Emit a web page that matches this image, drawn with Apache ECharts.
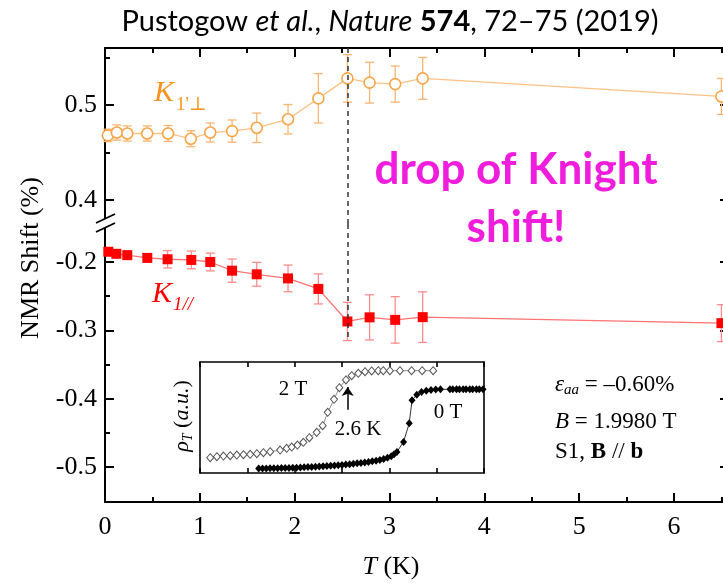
<!DOCTYPE html>
<html>
<head>
<meta charset="utf-8">
<script src="https://cdn.jsdelivr.net/npm/echarts@6/dist/echarts.min.js"></script>
<style>
  html, body { margin: 0; padding: 0; background: #fff; }
  #chart { width: 723px; height: 585px; }
</style>
</head>
<body>
<div id="chart"></div>
<script>
// ---- Knight shift K(1'⊥), upper panel (%) ----
const tPerp = [0.03, 0.125, 0.235, 0.445, 0.665, 0.905, 1.11, 1.34, 1.60, 1.93, 2.25, 2.556, 2.79, 3.06, 3.35, 6.50];
const kPerp = [0.468, 0.471, 0.470, 0.470, 0.470, 0.4645, 0.471, 0.4725, 0.476, 0.485, 0.507, 0.528, 0.5235, 0.522, 0.528, 0.509];
const kPerpErr = [0.0065, 0.008, 0.008, 0.008, 0.0084, 0.0084, 0.010, 0.0117, 0.0155, 0.0155, 0.026, 0.025, 0.0215, 0.019, 0.022, 0.019];

// ---- Knight shift K(1//), lower panel (%) ----
const tPar = [0.035, 0.12, 0.235, 0.446, 0.66, 0.91, 1.11, 1.34, 1.60, 1.93, 2.25, 2.556, 2.79, 3.06, 3.35, 6.50];
const kPar = [-0.185, -0.188, -0.190, -0.194, -0.196, -0.197, -0.200, -0.2127, -0.218, -0.224, -0.2394, -0.287, -0.281, -0.2847, -0.2807, -0.2895];
const kParErr = [0.005, 0.005, 0.006, 0.006, 0.0127, 0.013, 0.013, 0.017, 0.0175, 0.0195, 0.022, 0.028, 0.033, 0.034, 0.037, 0.027];

// ---- Inset: resistivity rho_T (a.u.) at 2 T ----
const t2T = [1.108, 1.178, 1.248, 1.319, 1.389, 1.459, 1.530, 1.600, 1.670, 1.741, 1.846, 1.916, 1.969, 2.029, 2.092, 2.155, 2.233, 2.296, 2.349, 2.416, 2.472, 2.542, 2.602, 2.672, 2.743, 2.813, 2.883, 2.936, 3.006, 3.112, 3.235, 3.347, 3.463];
const rho2T = [0.138, 0.147, 0.153, 0.156, 0.162, 0.165, 0.168, 0.174, 0.183, 0.192, 0.207, 0.222, 0.234, 0.252, 0.276, 0.318, 0.366, 0.426, 0.547, 0.664, 0.769, 0.838, 0.877, 0.898, 0.913, 0.919, 0.922, 0.922, 0.922, 0.922, 0.922, 0.922, 0.922];

// ---- Inset: resistivity rho_T (a.u.) at 0 T ----
const t0T = [1.62, 1.66, 1.70, 1.74, 1.78, 1.82, 1.86, 1.90, 1.94, 1.98, 2.02, 2.06, 2.10, 2.14, 2.18, 2.22, 2.26, 2.30, 2.34, 2.38, 2.42, 2.46, 2.50, 2.54, 2.58, 2.62, 2.66, 2.70, 2.74, 2.78, 2.82, 2.86, 2.90, 2.94, 2.98, 3.02, 3.05, 3.08, 3.15, 3.21, 3.24, 3.29, 3.34, 3.39, 3.44, 3.49, 3.54, 3.64, 3.67, 3.71, 3.74, 3.78, 3.81, 3.85, 3.88, 3.92, 3.95, 3.99];
const rho0T = [0.040, 0.041, 0.041, 0.042, 0.042, 0.043, 0.044, 0.045, 0.046, 0.047, 0.048, 0.050, 0.051, 0.053, 0.055, 0.057, 0.059, 0.061, 0.063, 0.065, 0.068, 0.070, 0.073, 0.076, 0.079, 0.083, 0.087, 0.091, 0.095, 0.100, 0.105, 0.110, 0.118, 0.126, 0.137, 0.152, 0.168, 0.190, 0.280, 0.448, 0.655, 0.705, 0.730, 0.742, 0.748, 0.752, 0.754, 0.754, 0.754, 0.755, 0.755, 0.755, 0.755, 0.755, 0.755, 0.755, 0.755, 0.755];

// ---- Ticks ----
const xMajor = [0, 1, 2, 3, 4, 5, 6];
const xMinor = [0.5, 1.5, 2.5, 3.5, 4.5, 5.5, 6.5];
const yUpMajor = [0.4, 0.5];
const yUpMinor = [0.45, 0.55];
const yLoMajor = [-0.5, -0.4, -0.3, -0.2];
const yLoMinor = [-0.45, -0.35, -0.25];
const tTransition = 2.56;        // temperature of the drop (K)
const dashEndLower = -0.315;     // lower end of the dashed guide

// ---- Axis ranges ----
const X_MAX = 6.58;
const UP_MIN = 0.3747, UP_MAX = 0.56;
const LO_MIN = -0.5512, LO_MAX = -0.1444;

const SERIF = '"Liberation Serif", "DejaVu Serif", serif';
const SANS = 'Lato, "Open Sans", sans-serif';

const C_PERP = '#F9A54A', C_PERP_LINE = '#FBC185', C_PERP_ERR = '#FAB572';
const C_PAR = '#FF0000', C_PAR_LINE = '#FF7373', C_PAR_ERR = '#FF8C8C';

function errBars(color) {
  return function (params, api) {
    const x = api.value(0);
    const pLo = api.coord([x, api.value(1)]);
    const pHi = api.coord([x, api.value(2)]);
    const cap = 4.5;
    const st = { stroke: color, lineWidth: 1.3 };
    return {
      type: 'group',
      children: [
        { type: 'line', shape: { x1: pLo[0], y1: pLo[1], x2: pHi[0], y2: pHi[1] }, style: st },
        { type: 'line', shape: { x1: pLo[0] - cap, y1: pLo[1], x2: pLo[0] + cap, y2: pLo[1] }, style: st },
        { type: 'line', shape: { x1: pHi[0] - cap, y1: pHi[1], x2: pHi[0] + cap, y2: pHi[1] }, style: st }
      ]
    };
  };
}

function axisBase(extra) {
  return Object.assign({
    type: 'value',
    splitLine: { show: false },
    axisLine: { show: false, onZero: false, lineStyle: { color: '#000', width: 2 } },
    axisTick: { show: false },
    axisLabel: { show: false }
  }, extra);
}
function ticks(values, len) {
  return { show: true, inside: true, length: len, customValues: values, lineStyle: { color: '#000', width: 2 } };
}
const lineOn = { show: true, onZero: false, lineStyle: { color: '#000', width: 2 } };
const labelStyle = { fontFamily: SERIF, fontSize: 26, color: '#000' };

const chart = echarts.init(document.getElementById('chart'), null, { renderer: 'canvas' });

const option = {
  animation: false,
  backgroundColor: '#fff',
  grid: [
    { left: 105, top: 48, width: 624, height: 176, containLabel: false, outerBoundsMode: 'none' },
    { left: 105, top: 224, width: 624, height: 278, containLabel: false, outerBoundsMode: 'none' },
    { left: 200, top: 362, width: 284, height: 111, show: true, backgroundColor: '#fff', borderWidth: 0,
      containLabel: false, outerBoundsMode: 'none' }
  ],
  xAxis: [
    axisBase({ gridIndex: 0, position: 'top', min: 0, max: X_MAX, axisLine: lineOn, axisTick: ticks(xMajor, 9) }),
    axisBase({ gridIndex: 0, position: 'top', min: 0, max: X_MAX, axisTick: ticks(xMinor, 5) }),
    axisBase({ gridIndex: 1, position: 'bottom', min: 0, max: X_MAX, axisLine: lineOn, axisTick: ticks(xMajor, 9),
      axisLabel: Object.assign({ show: true, customValues: xMajor, margin: 12 }, labelStyle) }),
    axisBase({ gridIndex: 1, position: 'bottom', min: 0, max: X_MAX, axisTick: ticks(xMinor, 5) }),
    axisBase({ gridIndex: 2, position: 'bottom', min: 1, max: 4, interval: 0.5,
      axisLine: { show: true, onZero: false, lineStyle: { color: '#000', width: 1.6 } },
      axisTick: { show: true, inside: true, length: 5, lineStyle: { color: '#000', width: 1.6 } } }),
    axisBase({ gridIndex: 2, position: 'top', min: 1, max: 4, interval: 0.5,
      axisLine: { show: true, onZero: false, lineStyle: { color: '#000', width: 1.6 } },
      axisTick: { show: true, inside: true, length: 5, lineStyle: { color: '#000', width: 1.6 } } })
  ],
  yAxis: [
    axisBase({ gridIndex: 0, position: 'left', min: UP_MIN, max: UP_MAX, axisLine: lineOn, axisTick: ticks(yUpMajor, 9),
      axisLabel: Object.assign({ show: true, customValues: yUpMajor, margin: 8, formatter: v => v.toFixed(1) }, labelStyle) }),
    axisBase({ gridIndex: 0, position: 'left', min: UP_MIN, max: UP_MAX, axisTick: ticks(yUpMinor, 5) }),
    axisBase({ gridIndex: 0, position: 'right', min: UP_MIN, max: UP_MAX, axisLine: lineOn, axisTick: ticks(yUpMajor, 9) }),
    axisBase({ gridIndex: 1, position: 'left', min: LO_MIN, max: LO_MAX, axisLine: lineOn, axisTick: ticks(yLoMajor, 9),
      axisLabel: Object.assign({ show: true, customValues: yLoMajor, margin: 8, formatter: v => v.toFixed(1) }, labelStyle) }),
    axisBase({ gridIndex: 1, position: 'left', min: LO_MIN, max: LO_MAX, axisTick: ticks(yLoMinor, 5) }),
    axisBase({ gridIndex: 1, position: 'right', min: LO_MIN, max: LO_MAX, axisLine: lineOn, axisTick: ticks(yLoMajor, 9) }),
    axisBase({ gridIndex: 2, position: 'left', min: 0, max: 1,
      axisLine: { show: true, onZero: false, lineStyle: { color: '#000', width: 1.6 } } }),
    axisBase({ gridIndex: 2, position: 'right', min: 0, max: 1,
      axisLine: { show: true, onZero: false, lineStyle: { color: '#000', width: 1.6 } } })
  ],
  series: [
    {
      type: 'custom', xAxisIndex: 0, yAxisIndex: 0, z: 2,
      renderItem: errBars(C_PERP_ERR), encode: { x: 0, y: [1, 2] },
      data: tPerp.map((t, i) => [t, kPerp[i] - kPerpErr[i], kPerp[i] + kPerpErr[i]])
    },
    {
      type: 'line', name: "K1'⊥", xAxisIndex: 0, yAxisIndex: 0, z: 3,
      data: tPerp.map((t, i) => [t, kPerp[i]]),
      symbol: 'circle', symbolSize: 11,
      itemStyle: { color: '#fff', borderColor: C_PERP, borderWidth: 1.6 },
      lineStyle: { color: C_PERP_LINE, width: 1.3 },
      markLine: {
        silent: true, symbol: 'none', label: { show: false },
        lineStyle: { color: '#333', type: [5, 4], width: 1.5 },
        data: [{ xAxis: tTransition }]
      }
    },
    {
      type: 'custom', xAxisIndex: 2, yAxisIndex: 3, z: 2,
      renderItem: errBars(C_PAR_ERR), encode: { x: 0, y: [1, 2] },
      data: tPar.map((t, i) => [t, kPar[i] - kParErr[i], kPar[i] + kParErr[i]])
    },
    {
      type: 'line', name: 'K1//', xAxisIndex: 2, yAxisIndex: 3, z: 3,
      data: tPar.map((t, i) => [t, kPar[i]]),
      symbol: 'rect', symbolSize: 10,
      itemStyle: { color: C_PAR },
      lineStyle: { color: C_PAR_LINE, width: 1.3 },
      markLine: {
        silent: true, symbol: 'none', label: { show: false },
        lineStyle: { color: '#333', type: [5, 4], width: 1.5 },
        data: [[{ coord: [tTransition, LO_MAX] }, { coord: [tTransition, dashEndLower] }]]
      }
    },
    {
      type: 'line', name: '2 T', xAxisIndex: 4, yAxisIndex: 6, z: 5,
      data: t2T.map((t, i) => [t, rho2T[i]]),
      symbol: 'diamond', symbolSize: [7, 8],
      itemStyle: { color: '#fff', borderColor: '#555', borderWidth: 1 },
      lineStyle: { color: '#777', width: 0.8 },
      markLine: {
        silent: true, symbol: ['none', 'arrow'], symbolSize: 9, label: { show: false },
        lineStyle: { color: '#000', type: 'solid', width: 1.5 },
        data: [[{ coord: [tTransition, 0.57] }, { coord: [tTransition, 0.775] }]]
      }
    },
    {
      type: 'line', name: '0 T', xAxisIndex: 4, yAxisIndex: 6, z: 5,
      data: t0T.map((t, i) => [t, rho0T[i]]),
      symbol: 'diamond', symbolSize: [7, 8],
      itemStyle: { color: '#000' },
      lineStyle: { color: '#000', width: 0.8 }
    }
  ],
  graphic: [
    // citation
    { type: 'text', x: 390, y: 22, z: 100, style: {
        text: '{n|Pustogow }{i|et al.}{n|, }{i|Nature}{n| }{b|574}{n|, 72–75 (2019)}',
        align: 'center', verticalAlign: 'middle',
        rich: {
          n: { fontFamily: SANS, fontSize: 29, fill: '#000' },
          i: { fontFamily: SANS, fontSize: 29, fontStyle: 'italic', fill: '#000' },
          b: { fontFamily: SANS, fontSize: 29, fontWeight: 'bold', fill: '#000' }
        } } },
    // highlight note
    { type: 'text', x: 516, y: 199, z: 100, style: {
        text: 'drop of Knight\nshift!', align: 'center', verticalAlign: 'middle',
        fontFamily: SANS, fontSize: 44, fontWeight: 'bold', lineHeight: 58, fill: '#F01EDC' } },
    // series labels
    { type: 'text', x: 164, y: 93, z: 100, style: { text: 'K', align: 'center', verticalAlign: 'middle',
        fontFamily: SERIF, fontSize: 30, fontStyle: 'italic', fill: '#F7931E' } },
    { type: 'text', x: 176, y: 105, z: 100, style: { text: "1'⊥", align: 'left', verticalAlign: 'middle',
        fontFamily: SERIF, fontSize: 19, fill: '#F7931E' } },
    { type: 'text', x: 162, y: 294, z: 100, style: { text: 'K', align: 'center', verticalAlign: 'middle',
        fontFamily: SERIF, fontSize: 30, fontStyle: 'italic', fill: '#FF0000' } },
    { type: 'text', x: 173, y: 305, z: 100, style: { text: '1//', align: 'left', verticalAlign: 'middle',
        fontFamily: SERIF, fontSize: 19, fontStyle: 'italic', fill: '#FF0000' } },
    // inset annotations
    { type: 'text', x: 293, y: 389, z: 100, style: { text: '2 T', align: 'center', verticalAlign: 'middle',
        fontFamily: SERIF, fontSize: 21, fill: '#000' } },
    { type: 'text', x: 358, y: 429, z: 100, style: { text: '2.6 K', align: 'center', verticalAlign: 'middle',
        fontFamily: SERIF, fontSize: 21, fill: '#000' } },
    { type: 'text', x: 448, y: 412, z: 100, style: { text: '0 T', align: 'center', verticalAlign: 'middle',
        fontFamily: SERIF, fontSize: 21, fill: '#000' } },
    { type: 'text', x: 182, y: 416, z: 100, rotation: Math.PI / 2, style: {
        text: '{i|ρ}{s|T}{n| (}{i|a.u.}{n|)}', align: 'center', verticalAlign: 'middle',
        rich: {
          i: { fontFamily: SERIF, fontSize: 22, fontStyle: 'italic', fill: '#000', lineHeight: 26 },
          n: { fontFamily: SERIF, fontSize: 22, fill: '#000', lineHeight: 26 },
          s: { fontFamily: SERIF, fontSize: 14, fontStyle: 'italic', fill: '#000', lineHeight: 14, verticalAlign: 'bottom' }
        } } },
    // sample conditions
    { type: 'text', x: 555, y: 385, z: 100, style: {
        text: '{i|ε}{s|aa}{n| = –0.60%}', align: 'left', verticalAlign: 'middle',
        rich: {
          i: { fontFamily: SERIF, fontSize: 23, fontStyle: 'italic', fill: '#000', lineHeight: 26 },
          n: { fontFamily: SERIF, fontSize: 23, fill: '#000', lineHeight: 26 },
          s: { fontFamily: SERIF, fontSize: 15, fontStyle: 'italic', fill: '#000', lineHeight: 14, verticalAlign: 'bottom' }
        } } },
    { type: 'text', x: 555, y: 422, z: 100, style: {
        text: '{i|B}{n| = 1.9980 T}', align: 'left', verticalAlign: 'middle',
        rich: {
          i: { fontFamily: SERIF, fontSize: 23, fontStyle: 'italic', fill: '#000' },
          n: { fontFamily: SERIF, fontSize: 23, fill: '#000' }
        } } },
    { type: 'text', x: 555, y: 452, z: 100, style: {
        text: '{n|S1, }{b|B}{n| // }{b|b}', align: 'left', verticalAlign: 'middle',
        rich: {
          n: { fontFamily: SERIF, fontSize: 23, fill: '#000' },
          b: { fontFamily: SERIF, fontSize: 23, fontWeight: 'bold', fill: '#000' }
        } } },
    // axis titles
    { type: 'text', x: 31, y: 258, z: 100, rotation: Math.PI / 2, style: {
        text: 'NMR Shift (%)', align: 'center', verticalAlign: 'middle',
        fontFamily: SERIF, fontSize: 26, fill: '#000' } },
    { type: 'text', x: 391, y: 567, z: 100, style: {
        text: '{i|T}{n| (K)}', align: 'center', verticalAlign: 'middle',
        rich: {
          i: { fontFamily: SERIF, fontSize: 26, fontStyle: 'italic', fill: '#000' },
          n: { fontFamily: SERIF, fontSize: 26, fill: '#000' }
        } } },
    // axis break marks
    { type: 'rect', z: 100, shape: { x: 101, y: 219, width: 8, height: 9 }, style: { fill: '#fff' } },
    { type: 'line', z: 101, shape: { x1: 96, y1: 223, x2: 115, y2: 214 }, style: { stroke: '#000', lineWidth: 1.8 } },
    { type: 'line', z: 101, shape: { x1: 96, y1: 232, x2: 115, y2: 223 }, style: { stroke: '#000', lineWidth: 1.8 } }
  ]
};

chart.setOption(option);
</script>
</body>
</html>
